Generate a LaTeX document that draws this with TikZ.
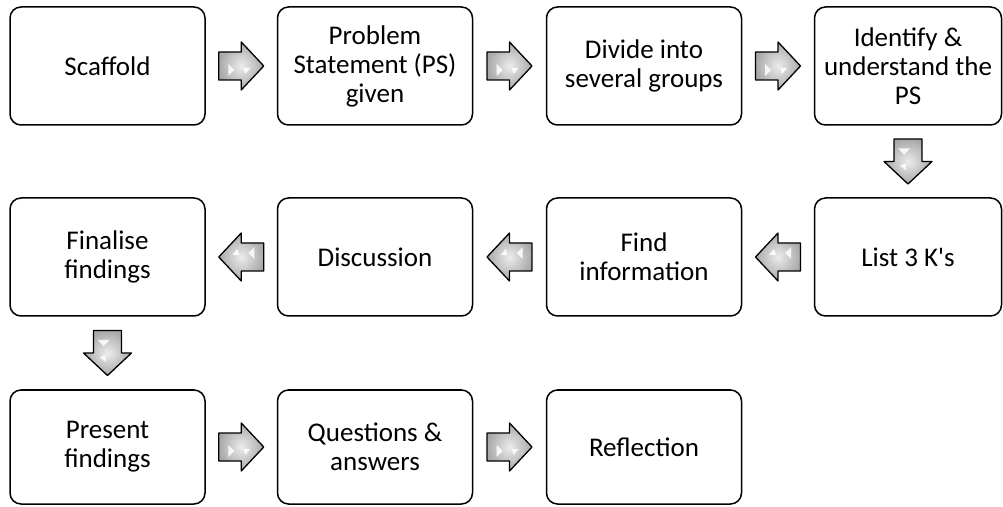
\documentclass[tikz,border=0pt]{standalone}
\usepackage{fontspec}
\newfontfamily\boxfont{Carlito}
\usepackage{tikz}
\usetikzlibrary{calc}

\tikzset{
  stepbox/.style={draw, line width=1.5pt, rounded corners=11pt, align=center,
    minimum width=195pt, minimum height=118pt, inner sep=2pt,
    font=\boxfont\fontsize{27}{29}\selectfont},
  widebox/.style={stepbox, minimum width=187pt},
  lowbox/.style={stepbox, minimum height=114pt},
  blockfill/.style={draw=black, line width=1.3pt, line join=round,
    inner color=gray!15, outer color=gray!68}
}

% block arrow half-way between two anchors, turned by #3
\newcommand{\blockarrow}[3]{%
  \begin{scope}[shift={($(#1)!0.5!(#2)$)}, rotate=#3]
    \shade[blockfill] (-22.5,14) -- (0,14) -- (0,24) -- (22.5,0)
      -- (0,-24) -- (0,-14) -- (-22.5,-14) -- cycle;
    \fill[white, opacity=0.85] (-13,2) -- (-7,-4) -- (-13,-10) -- cycle;
    \fill[white, opacity=0.85] (2,-2) -- (9,-2) -- (4,-8) -- cycle;
  \end{scope}}

\begin{document}
\begin{tikzpicture}[x=1pt, y=1pt]
  \useasboundingbox (0,0) rectangle (1003,506);
  % first row
  \node[stepbox] (scaffold) at (107.5,440) {Scaffold};
  \node[stepbox] (problem)  at (375,440)   {Problem\\Statement (PS)\\given};
  \node[stepbox] (divide)   at (644,440)   {Divide into\\several groups};
  \node[widebox] (identify) at (908,440)   {Identify \&\\understand the\\PS};
  % second row, right to left
  \node[widebox] (list)     at (908,249)   {List 3 K\textquotesingle s};
  \node[stepbox] (find)     at (644,249)   {Find\\information};
  \node[stepbox] (discuss)  at (375,249)   {Discussion};
  \node[stepbox] (finalise) at (107.5,249) {Finalise\\findings};
  % third row
  \node[lowbox]  (present)   at (107.5,59) {Present\\findings};
  \node[lowbox]  (questions) at (375,59)   {Questions \&\\answers};
  \node[lowbox]  (reflect)   at (644,59)   {Reflection};
  % arrows
  \blockarrow{scaffold.east}{problem.west}{0}
  \blockarrow{problem.east}{divide.west}{0}
  \blockarrow{divide.east}{identify.west}{0}
  \blockarrow{identify.south}{list.north}{-90}
  \blockarrow{list.west}{find.east}{180}
  \blockarrow{find.west}{discuss.east}{180}
  \blockarrow{discuss.west}{finalise.east}{180}
  \blockarrow{finalise.south}{present.north}{-90}
  \blockarrow{present.east}{questions.west}{0}
  \blockarrow{questions.east}{reflect.west}{0}
\end{tikzpicture}
\end{document}
